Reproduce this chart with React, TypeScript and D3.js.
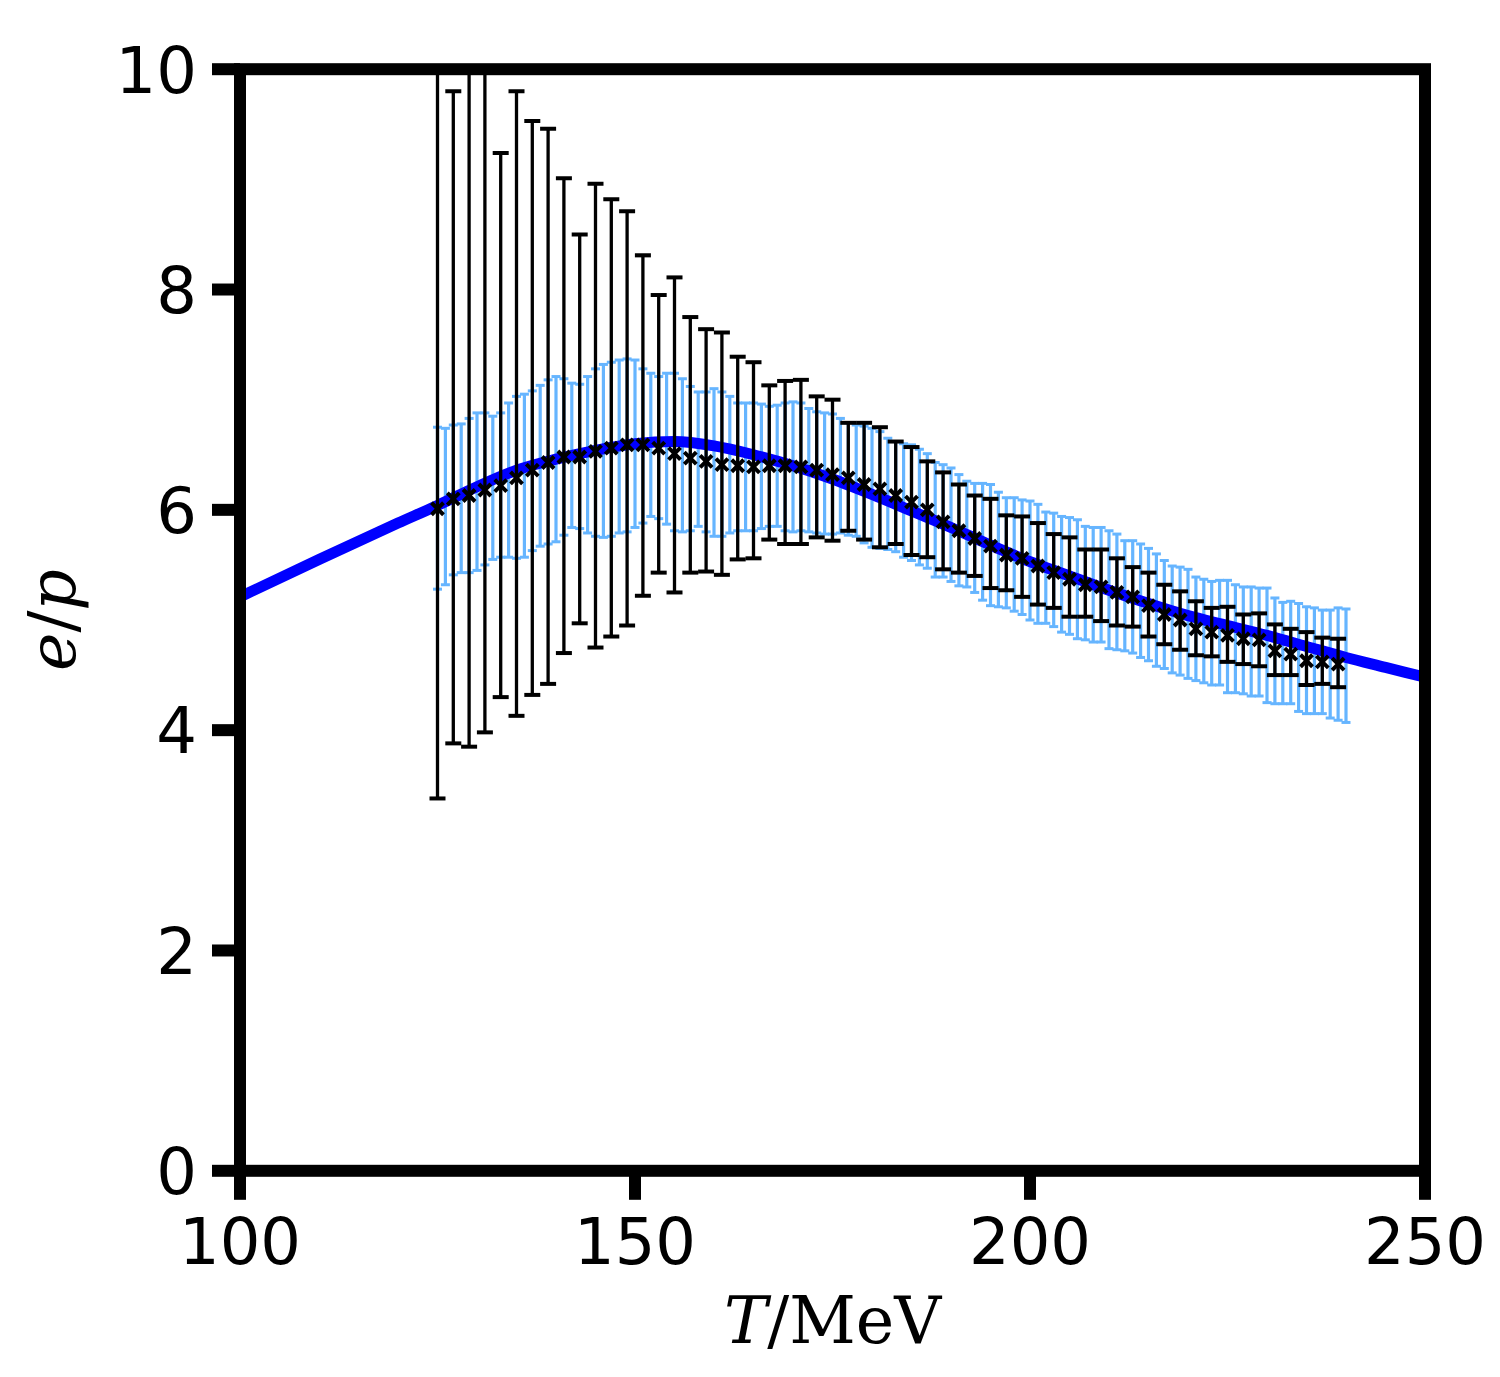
import React, { useEffect, useRef } from 'react';
import * as d3 from 'd3';

// smooth curve (blue line), every few MeV
const curveT = [100, 110, 120, 125, 130, 135, 140, 145, 150, 155, 160, 165, 170, 175, 180, 185, 190, 195, 200, 205, 210, 215, 220, 225, 230, 235, 240, 245, 250];
const curveV = [5.21, 5.55, 5.88, 6.04, 6.21, 6.36, 6.46, 6.54, 6.6, 6.62, 6.58, 6.5, 6.4, 6.28, 6.14, 5.99, 5.84, 5.68, 5.53, 5.4, 5.27, 5.15, 5.04, 4.95, 4.86, 4.76, 4.66, 4.57, 4.48];

// light blue error bars, one per MeV from 125 to 240
const bandT = d3.range(125, 241);
const bandHi = [
  6.75, 6.74, 6.77, 6.78, 6.83, 6.88, 6.88, 6.85, 6.88, 6.97,
  7.03, 7.05, 7.08, 7.13, 7.18, 7.21, 7.19, 7.15, 7.14, 7.21,
  7.28, 7.32, 7.34, 7.36, 7.37, 7.36, 7.28, 7.24, 7.21, 7.24,
  7.24, 7.19, 7.12, 7.07, 7.07, 7.1, 7.07, 7.03, 6.97, 6.97,
  6.97, 6.96, 6.94, 6.95, 6.97, 6.98, 6.97, 6.92, 6.89, 6.88,
  6.87, 6.83, 6.79, 6.77, 6.76, 6.74, 6.71, 6.65, 6.62, 6.6,
  6.59, 6.55, 6.51, 6.43, 6.41, 6.38, 6.32, 6.26, 6.24, 6.24,
  6.23, 6.16, 6.11, 6.11, 6.09, 6.08, 6.05, 5.98, 5.97, 5.94,
  5.93, 5.91, 5.85, 5.84, 5.84, 5.81, 5.78, 5.72, 5.72, 5.69,
  5.65, 5.6, 5.54, 5.49, 5.48, 5.46, 5.39, 5.37, 5.35, 5.36,
  5.36, 5.32, 5.3, 5.3, 5.29, 5.29, 5.2, 5.16, 5.17, 5.15,
  5.12, 5.11, 5.09, 5.09, 5.11, 5.1,
];
const bandLo = [
  5.28, 5.32, 5.41, 5.43, 5.43, 5.45, 5.5, 5.55, 5.57, 5.57,
  5.56, 5.57, 5.63, 5.67, 5.69, 5.71, 5.77, 5.84, 5.83, 5.79,
  5.76, 5.75, 5.76, 5.79, 5.8, 5.84, 5.88, 5.94, 5.92, 5.87,
  5.81, 5.8, 5.81, 5.85, 5.8, 5.76, 5.76, 5.79, 5.81, 5.81,
  5.81, 5.83, 5.85, 5.85, 5.81, 5.8, 5.81, 5.8, 5.79, 5.78,
  5.78, 5.79, 5.77, 5.76, 5.7, 5.66, 5.65, 5.64, 5.62, 5.57,
  5.54, 5.5, 5.47, 5.39, 5.39, 5.35, 5.31, 5.3, 5.25, 5.18,
  5.13, 5.12, 5.11, 5.08, 5.05, 5.0, 4.97, 4.97, 4.94, 4.89,
  4.87, 4.83, 4.82, 4.8, 4.8, 4.74, 4.73, 4.72, 4.7, 4.66,
  4.63, 4.58, 4.56, 4.52, 4.5, 4.47, 4.45, 4.43, 4.41, 4.41,
  4.34, 4.34, 4.33, 4.31, 4.31, 4.25, 4.24, 4.24, 4.24, 4.17,
  4.15, 4.15, 4.15, 4.11, 4.09, 4.07,
];

// black points with error bars, every 2 MeV from 125 to 239
const pointT = d3.range(125, 240, 2);
const pointV = [
  6.01, 6.1, 6.13, 6.18, 6.22, 6.29, 6.36, 6.43, 6.48, 6.48,
  6.53, 6.56, 6.59, 6.59, 6.56, 6.51, 6.47, 6.44, 6.41, 6.4,
  6.39, 6.4, 6.4, 6.39, 6.36, 6.32, 6.29, 6.23, 6.19, 6.13,
  6.07, 6.0, 5.89, 5.81, 5.74, 5.67, 5.59, 5.56, 5.49, 5.43,
  5.37, 5.32, 5.3, 5.25, 5.21, 5.13, 5.05, 5.0, 4.92, 4.89,
  4.86, 4.83, 4.82, 4.72, 4.69, 4.63, 4.62, 4.6,
];
const pointLo = [
  3.38, 3.88, 3.85, 3.98, 4.3, 4.13, 4.32, 4.42, 4.7, 4.97,
  4.75, 4.85, 4.95, 5.22, 5.43, 5.25, 5.43, 5.44, 5.41, 5.55,
  5.56, 5.73, 5.69, 5.69, 5.75, 5.72, 5.81, 5.73, 5.66, 5.69,
  5.59, 5.57, 5.46, 5.43, 5.4, 5.29, 5.27, 5.21, 5.14, 5.11,
  5.03, 5.03, 4.99, 4.95, 4.94, 4.85, 4.78, 4.73, 4.68, 4.67,
  4.62, 4.6, 4.58, 4.5, 4.5, 4.41, 4.42, 4.39,
];
const pointHi = [
  10.6, 9.8, 10.2, 10.3, 9.24, 9.8, 9.53, 9.46, 9.01, 8.5,
  8.96, 8.82, 8.71, 8.31, 7.95, 8.11, 7.75, 7.64, 7.61, 7.39,
  7.34, 7.13, 7.17, 7.18, 7.03, 7.0, 6.79, 6.79, 6.75, 6.62,
  6.57, 6.44, 6.34, 6.23, 6.13, 6.1, 5.95, 5.94, 5.88, 5.78,
  5.75, 5.64, 5.64, 5.56, 5.48, 5.43, 5.32, 5.26, 5.17, 5.11,
  5.12, 5.05, 5.06, 4.96, 4.92, 4.89, 4.84, 4.83,
];

const xTicks = [100, 150, 200, 250];
const yTicks = [0, 2, 4, 6, 8, 10];

const W = 1500;
const H = 1377;
const LIGHT = '#66b5ff';

const App: React.FC = () => {
  const svgRef = useRef<SVGSVGElement>(null);

  useEffect(() => {
    if (!svgRef.current) return;
    const svg = d3.select(svgRef.current);
    svg.selectAll('*').remove();

    const x = d3.scaleLinear().domain([100, 250]).range([240, 1425]);
    const y = d3.scaleLinear().domain([0, 10]).range([1170.8, 69.2]);
    const [x0, x1] = x.range();
    const [yb, yt] = y.range();

    svg.append('rect').attr('width', W).attr('height', H).attr('fill', '#fff');

    svg.append('defs').append('clipPath').attr('id', 'plot')
      .append('rect')
      .attr('x', x0).attr('y', yt)
      .attr('width', x1 - x0).attr('height', yb - yt);

    const g = svg.append('g').attr('clip-path', 'url(#plot)');

    // light blue error bars
    const band = bandT.map((t, i) => ({ t, lo: bandLo[i], hi: bandHi[i] }));
    g.append('g').selectAll('line').data(band).join('line')
      .attr('x1', d => x(d.t)).attr('x2', d => x(d.t))
      .attr('y1', d => y(d.lo)).attr('y2', d => y(d.hi))
      .attr('stroke', LIGHT).attr('stroke-width', 3.2);
    for (const key of ['lo', 'hi'] as const) {
      g.append('g').selectAll('line').data(band).join('line')
        .attr('x1', d => x(d.t) - 4.5).attr('x2', d => x(d.t) + 4.5)
        .attr('y1', d => y(d[key])).attr('y2', d => y(d[key]))
        .attr('stroke', LIGHT).attr('stroke-width', 3);
    }

    // smooth blue curve
    const curve = curveT.map((t, i) => ({ t, v: curveV[i] }));
    const line = d3.line<{ t: number; v: number }>()
      .x(d => x(d.t))
      .y(d => y(d.v))
      .curve(d3.curveMonotoneX);
    g.append('path')
      .datum(curve)
      .attr('fill', 'none')
      .attr('stroke', '#0000ff')
      .attr('stroke-width', 11)
      .attr('d', line);

    // black error bars and crosses
    const pts = pointT.map((t, i) => ({ t, v: pointV[i], lo: pointLo[i], hi: pointHi[i] }));
    g.append('g').selectAll('line').data(pts).join('line')
      .attr('x1', d => x(d.t)).attr('x2', d => x(d.t))
      .attr('y1', d => y(d.lo)).attr('y2', d => y(d.hi))
      .attr('stroke', '#000').attr('stroke-width', 3.3);
    for (const key of ['lo', 'hi'] as const) {
      g.append('g').selectAll('line').data(pts).join('line')
        .attr('x1', d => x(d.t) - 8).attr('x2', d => x(d.t) + 8)
        .attr('y1', d => y(d[key])).attr('y2', d => y(d[key]))
        .attr('stroke', '#000').attr('stroke-width', 4);
    }
    const s = 6;
    g.append('g').selectAll('path').data(pts).join('path')
      .attr('d', d => {
        const cx = x(d.t);
        const cy = y(d.v);
        return `M${cx - s},${cy - s}L${cx + s},${cy + s}M${cx - s},${cy + s}L${cx + s},${cy - s}`;
      })
      .attr('stroke', '#000').attr('stroke-width', 4).attr('fill', 'none');

    // frame
    svg.append('rect')
      .attr('x', x0).attr('y', yt)
      .attr('width', x1 - x0).attr('height', yb - yt)
      .attr('fill', 'none').attr('stroke', '#000').attr('stroke-width', 12)
      .attr('stroke-linejoin', 'miter').attr('stroke-linecap', 'square');

    // x ticks
    const xa = svg.append('g');
    xa.selectAll('line').data(xTicks).join('line')
      .attr('x1', d => x(d)).attr('x2', d => x(d))
      .attr('y1', yb).attr('y2', yb + 29)
      .attr('stroke', '#000').attr('stroke-width', 12);
    xa.selectAll('text').data(xTicks).join('text')
      .attr('x', d => x(d)).attr('y', 1264)
      .attr('text-anchor', 'middle')
      .attr('font-family', 'DejaVu Sans')
      .attr('font-size', 64)
      .text(d => d);

    // y ticks
    const ya = svg.append('g');
    ya.selectAll('line').data(yTicks).join('line')
      .attr('x1', x0 - 28).attr('x2', x0)
      .attr('y1', d => y(d)).attr('y2', d => y(d))
      .attr('stroke', '#000').attr('stroke-width', 12);
    ya.selectAll('text').data(yTicks).join('text')
      .attr('x', 197).attr('y', d => y(d) + 23.3)
      .attr('text-anchor', 'end')
      .attr('font-family', 'DejaVu Sans')
      .attr('font-size', 64)
      .text(d => d);

    // axis labels
    const xl = svg.append('text')
      .attr('x', (x0 + x1) / 2).attr('y', 1343)
      .attr('text-anchor', 'middle')
      .attr('font-family', 'DejaVu Serif')
      .attr('font-size', 65);
    xl.append('tspan').attr('font-style', 'italic').text('T');
    xl.append('tspan').text('/MeV');

    const yl = svg.append('text')
      .attr('transform', `translate(75,${(yt + yb) / 2}) rotate(-90)`)
      .attr('text-anchor', 'middle')
      .attr('font-family', 'DejaVu Serif')
      .attr('font-size', 65);
    yl.append('tspan').attr('font-style', 'italic').text('e');
    yl.append('tspan').text('/');
    yl.append('tspan').attr('font-style', 'italic').text('p');
  }, []);

  return (
    <div style={{ position: 'absolute', left: 0, top: 0 }}>
      <svg ref={svgRef} width={W} height={H} style={{ display: 'block' }} />
    </div>
  );
};

export default App;
